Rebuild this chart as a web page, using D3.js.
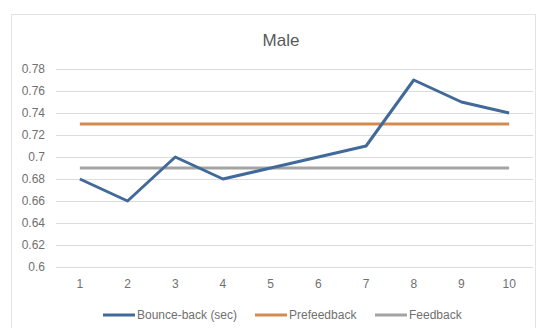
<!DOCTYPE html>
<html>
<head>
<meta charset="utf-8">
<script src="https://cdn.jsdelivr.net/npm/d3@7"></script>
<style>
  body { margin: 0; background: #fff; }
  text { font-family: "Liberation Sans", "DejaVu Sans", sans-serif; }
</style>
</head>
<body>
<div id="chart"></div>
<script>
const categories = [1, 2, 3, 4, 5, 6, 7, 8, 9, 10];
const bounceBack = [0.68, 0.66, 0.70, 0.68, 0.69, 0.70, 0.71, 0.77, 0.75, 0.74];
const prefeedback = [0.73, 0.73, 0.73, 0.73, 0.73, 0.73, 0.73, 0.73, 0.73, 0.73];
const feedback = [0.69, 0.69, 0.69, 0.69, 0.69, 0.69, 0.69, 0.69, 0.69, 0.69];
const yTicks = [0.6, 0.62, 0.64, 0.66, 0.68, 0.7, 0.72, 0.74, 0.76, 0.78];
const seriesNames = ["Bounce-back (sec)", "Prefeedback", "Feedback"];

const width = 538;
const height = 328;
const margin = { top: 69, left: 56, bottom: 61, right: 5 };
const iwidth = width - margin.left - margin.right;
const iheight = height - margin.top - margin.bottom;

const svg = d3.select("#chart").append("svg")
  .attr("width", width)
  .attr("height", height);

// chart frame
svg.append("rect")
  .attr("x", 11.5).attr("y", 14.5)
  .attr("width", 524).attr("height", 320)
  .attr("fill", "none")
  .attr("stroke", "#e3e3e3");

svg.append("text")
  .attr("x", 281).attr("y", 46)
  .attr("text-anchor", "middle")
  .attr("font-size", 17)
  .attr("fill", "#595959")
  .text("Male");

const g = svg.append("g")
  .attr("transform", `translate(${margin.left},${margin.top})`);

const x = d3.scaleBand().domain(categories).range([0, iwidth]);
const y = d3.scaleLinear().domain([0.6, 0.78]).range([iheight, 0]);
const cx = (d) => x(d) + x.bandwidth() / 2;

// gridlines
g.append("g")
  .selectAll("line")
  .data(yTicks)
  .enter()
  .append("line")
  .attr("x1", 0).attr("x2", iwidth)
  .attr("y1", (d) => Math.round(y(d)) + 0.5)
  .attr("y2", (d) => Math.round(y(d)) + 0.5)
  .attr("stroke", "#dcdcdc");

const yAxis = g.append("g")
  .call(d3.axisLeft(y).tickValues(yTicks).tickSize(0).tickPadding(11).tickFormat((d) => String(+d.toFixed(2))));
yAxis.select(".domain").remove();
yAxis.selectAll("text").attr("font-size", 12).attr("fill", "#707070")
  .style("font-family", "'Liberation Sans', sans-serif");

const xAxis = g.append("g")
  .attr("transform", `translate(0,${iheight})`)
  .call(d3.axisBottom(x).tickSize(0).tickPadding(12));
xAxis.select(".domain").remove();
xAxis.selectAll("text").attr("font-size", 12).attr("fill", "#707070")
  .style("font-family", "'Liberation Sans', sans-serif");

const colors = ["#41699a", "#d58a4f", "#a3a3a3"];
const allSeries = [bounceBack, prefeedback, feedback];

const line = d3.line()
  .x((d, i) => cx(categories[i]))
  .y((d) => y(d));

// draw feedback, prefeedback first so bounce-back sits on top
[2, 1, 0].forEach((k) => {
  g.append("path")
    .datum(allSeries[k])
    .attr("d", line)
    .attr("fill", "none")
    .attr("stroke", colors[k])
    .attr("stroke-width", 3)
    .attr("stroke-linejoin", "round");
});

// legend
const legendX = [103, 255, 375];
const legend = svg.append("g").attr("transform", "translate(0,315)");
seriesNames.forEach((name, k) => {
  legend.append("line")
    .attr("x1", legendX[k]).attr("x2", legendX[k] + 32)
    .attr("y1", 0).attr("y2", 0)
    .attr("stroke", colors[k])
    .attr("stroke-width", 3);
  legend.append("text")
    .attr("x", legendX[k] + 34)
    .attr("y", 4)
    .attr("font-size", 12)
    .attr("fill", "#707070")
    .text(name);
});
</script>
</body>
</html>
